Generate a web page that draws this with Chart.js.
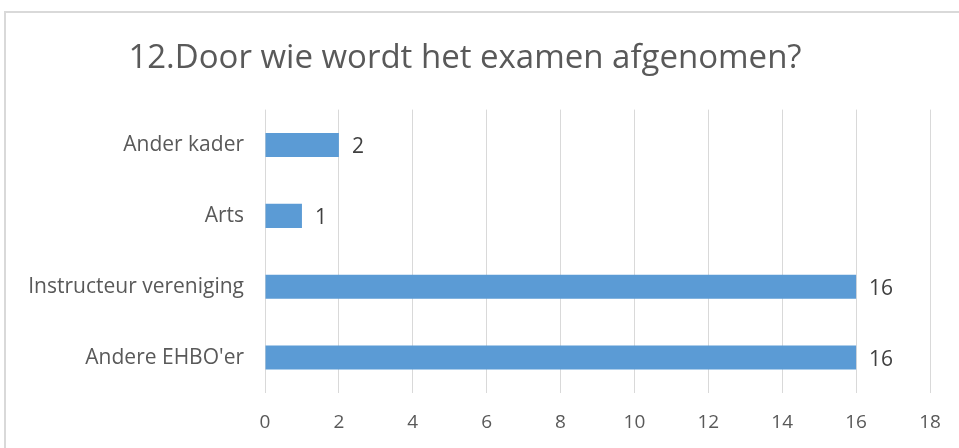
<!DOCTYPE html>
<html>
<head>
<meta charset="utf-8">
<script src="https://cdn.jsdelivr.net/npm/chart.js@4/dist/chart.umd.min.js"></script>
<style>
html,body{margin:0;padding:0;background:#fff;}
#wrap{position:absolute;left:0;top:0;width:959px;height:448px;}
</style>
</head>
<body>
<div id="wrap"><canvas id="c" width="959" height="448"></canvas></div>
<script>
const titleText = "12.Door wie wordt het examen afgenomen?";
const categories = ["Ander kader", "Arts", "Instructeur vereniging", "Andere EHBO'er"];
const values = [2, 1, 16, 16];
const xMin = 0, xMax = 18, xStep = 2;

const FONT = "'Open Sans', Lato, sans-serif";

const borderPlugin = {
  id: 'frame',
  beforeDraw(chart) {
    const ctx = chart.ctx;
    ctx.save();
    ctx.strokeStyle = '#d9d9d9';
    ctx.lineWidth = 2;
    ctx.beginPath();
    ctx.moveTo(5, 448);
    ctx.lineTo(5, 12);
    ctx.lineTo(959, 12);
    ctx.stroke();
    ctx.restore();
  }
};

const labelPlugin = {
  id: 'valueLabels',
  afterDatasetsDraw(chart) {
    const ctx = chart.ctx;
    const meta = chart.getDatasetMeta(0);
    ctx.save();
    ctx.font = "21px " + FONT;
    ctx.fillStyle = '#404040';
    ctx.textAlign = 'left';
    ctx.textBaseline = 'middle';
    meta.data.forEach((bar, i) => {
      ctx.fillText(String(values[i]), bar.x + 13, bar.y + 2);
    });
    ctx.restore();
  }
};

new Chart(document.getElementById('c'), {
  type: 'bar',
  data: {
    labels: categories,
    datasets: [{
      data: values,
      backgroundColor: '#5b9bd5',
      borderWidth: 0,
      barPercentage: 0.34,
      categoryPercentage: 1.0
    }]
  },
  options: {
    indexAxis: 'y',
    responsive: false,
    animation: false,
    layout: { padding: { left: 0, right: 29, top: 0, bottom: 0 } },
    plugins: {
      legend: { display: false },
      tooltip: { enabled: false },
      title: {
        display: true,
        text: titleText,
        color: '#595959',
        font: { family: FONT, size: 33, weight: 'normal' },
        padding: { top: 39, bottom: 31 }
      }
    },
    scales: {
      x: {
        min: xMin, max: xMax,
        ticks: { stepSize: xStep, color: '#595959', font: { family: FONT, size: 19 }, padding: 18 },
        grid: { color: '#d9d9d9', drawTicks: false },
        border: { display: false },
        afterFit(scale) { scale.height = 55; }
      },
      y: {
        ticks: { color: '#595959', font: { family: FONT, size: 21 }, padding: 13 },
        grid: { display: false },
        border: { display: false },
        afterFit(scale) { scale.width = 265; }
      }
    }
  },
  plugins: [borderPlugin, labelPlugin]
});
</script>
</body>
</html>
